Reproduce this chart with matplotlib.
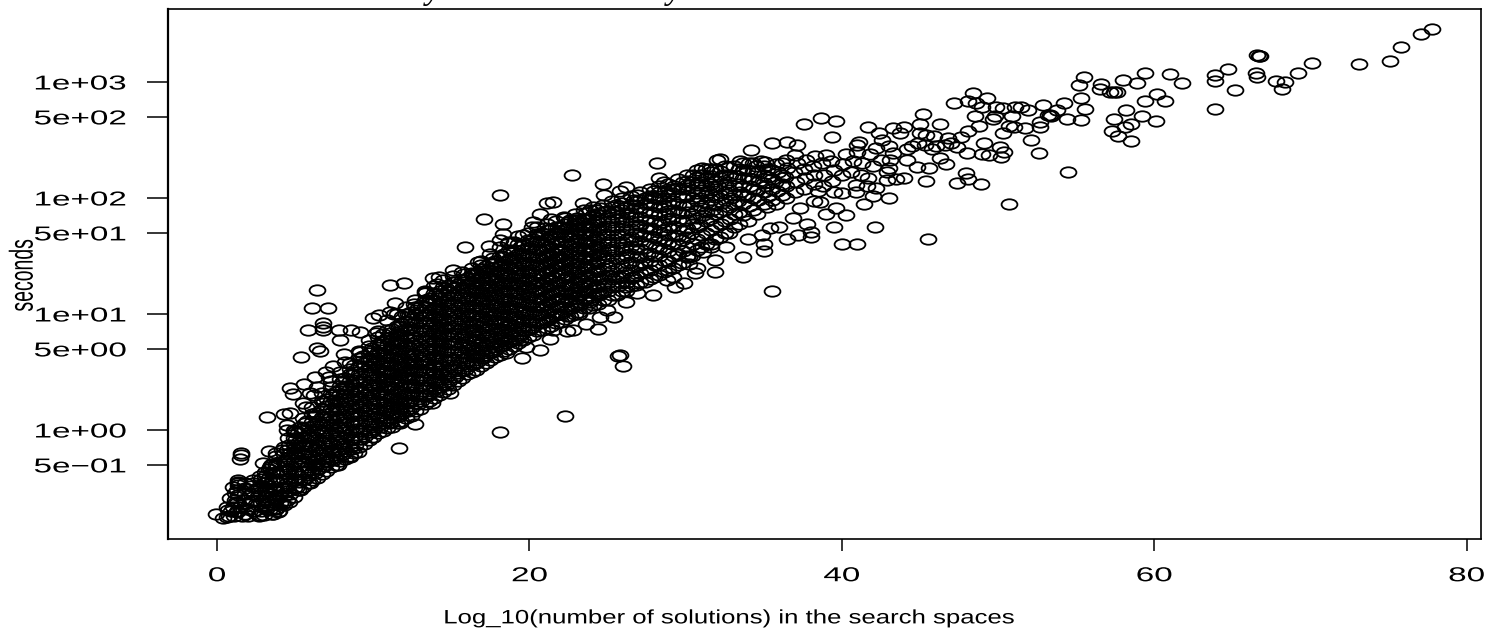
import matplotlib
matplotlib.use("Agg")
import matplotlib.pyplot as plt
from matplotlib.path import Path
from matplotlib.patheffects import AbstractPathEffect
from matplotlib.transforms import Affine2D

# (log10 number of solutions, log10 seconds)
band_a = [(.8,-.74),(.9,-.7),(1.0,-.66),(1.1,-.74),(1.2,-.62),(1.25,-.7),(1.35,-.56),(1.5,-.66),(1.6,-.74),(1.7,-.6),(1.8,-.5),(1.9,-.68),(2.0,-.74),(2.1,-.62),(2.15,-.55),(2.2,-.48),(2.4,-.7),(2.5,-.64),(2.6,-.57),(2.65,-.5),(2.7,-.74),
(3.0,-.73),(3.05,-.66),(2.95,-.6),(3.1,-.53),(3.0,-.46),(3.1,-.4),(3.5,-.72),(3.55,-.65),(3.45,-.58),(3.6,-.51),(3.5,-.44),(3.55,-.37),(3.45,-.3),
(4.0,-.7),(4.05,-.63),(3.95,-.56),(4.1,-.49),(4.0,-.42),(4.05,-.35),(3.95,-.28),(4.6,-.62),(4.65,-.55),(4.55,-.48),(4.7,-.41),(4.6,-.34),(4.5,-.27),(4.65,-.2),(4.6,-.13),
(5.2,-.52),(5.25,-.45),(5.15,-.38),(5.3,-.31),(5.2,-.24),(5.1,-.17),(5.25,-.1),(5.2,-.03),(5.8,-.46),(5.85,-.39),(5.75,-.32),(5.9,-.25),(5.8,-.18),(5.7,-.11),(5.85,-.04),(5.8,.03),(5.75,.08),
(6.4,-.41),(6.45,-.34),(6.35,-.27),(6.5,-.2),(6.4,-.13),(6.3,-.06),(6.45,.01),(6.4,.08),(6.35,.15),(7.0,-.35),(7.05,-.28),(6.95,-.21),(7.1,-.14),(7.0,-.07),(6.9,0),(7.05,.07),(7.0,.14),(6.95,.21),(7.05,.27),
(7.6,-.3),(7.65,-.23),(7.55,-.16),(7.7,-.09),(7.6,-.02),(7.5,.05),(7.65,.12),(7.6,.19),(7.55,.26),(7.65,.33),(8.2,-.25),(8.25,-.18),(8.15,-.11),(8.3,-.04),(8.2,.03),(8.1,.1),(8.25,.17),(8.2,.24),(8.15,.31),(8.25,.38),(8.2,.45)]
band_b = [(8.8,-.2),(8.85,-.13),(8.75,-.06),(8.9,.01),(8.8,.08),(8.7,.15),(8.85,.22),(8.8,.29),(8.75,.36),(8.85,.43),(8.8,.5),(8.75,.56),
(9.4,-.12),(9.45,-.05),(9.35,.02),(9.5,.09),(9.4,.16),(9.3,.23),(9.45,.3),(9.4,.37),(9.35,.44),(9.45,.51),(9.4,.58),(9.35,.64),
(10.0,-.06),(10.05,.01),(9.95,.08),(10.1,.15),(10.0,.22),(9.9,.29),(10.05,.36),(10.0,.43),(9.95,.5),(10.05,.57),(10.0,.64),(9.95,.71),
(10.6,-.01),(10.65,.06),(10.55,.13),(10.7,.2),(10.6,.27),(10.5,.34),(10.65,.41),(10.6,.48),(10.55,.55),(10.65,.62),(10.6,.69),(10.55,.76),(10.6,.83),
(11.2,.03),(11.25,.1),(11.15,.17),(11.3,.24),(11.2,.31),(11.1,.38),(11.25,.45),(11.2,.52),(11.15,.59),(11.25,.66),(11.2,.73),(11.15,.8),(11.2,.87),
(11.8,.08),(11.85,.15),(11.75,.22),(11.9,.29),(11.8,.36),(11.7,.43),(11.85,.5),(11.8,.57),(11.75,.64),(11.85,.71),(11.8,.78),(11.75,.85),(11.8,.92),(11.85,.98),
(12.4,.12),(12.45,.19),(12.35,.26),(12.5,.33),(12.4,.4),(12.3,.47),(12.45,.54),(12.4,.61),(12.35,.68),(12.45,.75),(12.4,.82),(12.35,.89),(12.4,.96),(12.45,1.02),
(13.0,.18),(13.05,.25),(12.95,.32),(13.1,.39),(13.0,.46),(12.9,.53),(13.05,.6),(13.0,.67),(12.95,.74),(13.05,.81),(13.0,.88),(12.95,.95),(13.0,1.02),(13.05,1.08),
(13.6,.25),(13.65,.32),(13.55,.39),(13.7,.46),(13.6,.53),(13.5,.6),(13.65,.67),(13.6,.74),(13.55,.81),(13.65,.88),(13.6,.95),(13.55,1.02),(13.6,1.09),(13.65,1.14),
(14.2,.3),(14.25,.37),(14.15,.44),(14.3,.51),(14.2,.58),(14.1,.65),(14.25,.72),(14.2,.79),(14.15,.86),(14.25,.93),(14.2,1.0),(14.15,1.07),(14.2,1.14),(14.25,1.2)]
band_c = [(14.8,.35),(14.85,.42),(14.75,.49),(14.9,.56),(14.8,.63),(14.7,.7),(14.85,.77),(14.8,.84),(14.75,.91),(14.85,.98),(14.8,1.05),(14.75,1.12),(14.8,1.19),(14.85,1.25),
(15.4,.42),(15.45,.49),(15.35,.56),(15.5,.63),(15.4,.7),(15.3,.77),(15.45,.84),(15.4,.91),(15.35,.98),(15.45,1.05),(15.4,1.12),(15.35,1.19),(15.4,1.26),
(16.0,.48),(16.05,.55),(15.95,.62),(16.1,.69),(16.0,.76),(15.9,.83),(16.05,.9),(16.0,.97),(15.95,1.04),(16.05,1.11),(16.0,1.18),(15.95,1.25),(16.0,1.31),
(16.6,.52),(16.65,.59),(16.55,.66),(16.7,.73),(16.6,.8),(16.5,.87),(16.65,.94),(16.6,1.01),(16.55,1.08),(16.65,1.15),(16.6,1.22),(16.55,1.29),(16.6,1.35),
(17.2,.58),(17.25,.65),(17.15,.72),(17.3,.79),(17.2,.86),(17.1,.93),(17.25,1.0),(17.2,1.07),(17.15,1.14),(17.25,1.21),(17.2,1.28),(17.15,1.35),(17.2,1.41),
(17.8,.63),(17.85,.7),(17.75,.77),(17.9,.84),(17.8,.91),(17.7,.98),(17.85,1.05),(17.8,1.12),(17.75,1.19),(17.85,1.26),(17.8,1.33),(17.75,1.4),(17.8,1.46),
(18.4,.68),(18.45,.75),(18.35,.82),(18.5,.89),(18.4,.96),(18.3,1.03),(18.45,1.1),(18.4,1.17),(18.35,1.24),(18.45,1.31),(18.4,1.38),(18.35,1.45),(18.4,1.52),
(19.0,.72),(19.05,.79),(18.95,.86),(19.1,.93),(19.0,1.0),(18.9,1.07),(19.05,1.14),(19.0,1.21),(18.95,1.28),(19.05,1.35),(19.0,1.42),(18.95,1.49),(19.0,1.55),
(19.6,.78),(19.65,.85),(19.55,.92),(19.7,.99),(19.6,1.06),(19.5,1.13),(19.65,1.2),(19.6,1.27),(19.55,1.34),(19.65,1.41),(19.6,1.48),(19.55,1.55),(19.6,1.6)]
band_d = [(20.2,.82),(20.25,.89),(20.15,.96),(20.3,1.03),(20.2,1.1),(20.1,1.17),(20.25,1.24),(20.2,1.31),(20.15,1.38),(20.25,1.45),(20.2,1.52),(20.15,1.59),(20.2,1.65),
(20.8,.86),(20.85,.93),(20.75,1.0),(20.9,1.07),(20.8,1.14),(20.7,1.21),(20.85,1.28),(20.8,1.35),(20.75,1.42),(20.85,1.49),(20.8,1.56),(20.75,1.63),(20.8,1.7),
(21.4,.9),(21.45,.97),(21.35,1.04),(21.5,1.11),(21.4,1.18),(21.3,1.25),(21.45,1.32),(21.4,1.39),(21.35,1.46),(21.45,1.53),(21.4,1.6),(21.35,1.67),(21.4,1.73),
(22.0,.93),(22.05,1.0),(21.95,1.07),(22.1,1.14),(22.0,1.21),(21.9,1.28),(22.05,1.35),(22.0,1.42),(21.95,1.49),(22.05,1.56),(22.0,1.63),(21.95,1.7),(22.0,1.75),
(22.6,.98),(22.65,1.05),(22.55,1.12),(22.7,1.19),(22.6,1.26),(22.5,1.33),(22.65,1.4),(22.6,1.47),(22.55,1.54),(22.65,1.61),(22.6,1.68),(22.55,1.75),(22.6,1.81),
(23.2,1.02),(23.25,1.09),(23.15,1.16),(23.3,1.23),(23.2,1.3),(23.1,1.37),(23.25,1.44),(23.2,1.51),(23.15,1.58),(23.25,1.65),(23.2,1.72),(23.15,1.79),
(23.8,1.05),(23.85,1.12),(23.75,1.19),(23.9,1.26),(23.8,1.33),(23.7,1.4),(23.85,1.47),(23.8,1.54),(23.75,1.61),(23.85,1.68),(23.8,1.75),(23.75,1.82),
(24.4,1.09),(24.45,1.16),(24.35,1.23),(24.5,1.3),(24.4,1.37),(24.3,1.44),(24.45,1.51),(24.4,1.58),(24.35,1.65),(24.45,1.72),(24.4,1.79),(24.35,1.86),
(25.0,1.12),(25.05,1.2),(24.95,1.27),(25.1,1.34),(25.0,1.41),(24.9,1.48),(25.05,1.55),(25.0,1.62),(24.95,1.69),(25.05,1.76),(25.0,1.83),(24.95,1.89),
(25.6,1.16),(25.65,1.24),(25.55,1.32),(25.7,1.4),(25.6,1.47),(25.5,1.54),(25.65,1.61),(25.6,1.68),(25.55,1.75),(25.65,1.82),(25.6,1.88),(25.55,1.94),
(26.2,1.2),(26.25,1.28),(26.15,1.36),(26.3,1.44),(26.2,1.51),(26.1,1.58),(26.25,1.65),(26.2,1.72),(26.15,1.79),(26.25,1.86),(26.2,1.92),
(26.8,1.25),(26.85,1.33),(26.75,1.41),(26.9,1.49),(26.8,1.56),(26.7,1.63),(26.85,1.7),(26.8,1.77),(26.75,1.84),(26.85,1.91),(26.8,1.97),
(27.4,1.28),(27.45,1.36),(27.35,1.44),(27.5,1.52),(27.4,1.6),(27.3,1.67),(27.45,1.74),(27.4,1.81),(27.35,1.88),(27.45,1.95),(27.4,2.0),
(28.0,1.32),(28.05,1.42),(27.95,1.5),(28.1,1.58),(28.0,1.66),(27.9,1.73),(28.05,1.8),(28.0,1.87),(27.95,1.94),(28.05,2.0),(28.0,2.06),
(28.6,1.36),(28.65,1.46),(28.55,1.56),(28.7,1.64),(28.6,1.72),(28.5,1.79),(28.65,1.86),(28.6,1.93),(28.55,2.0),(28.65,2.06),
(29.2,1.4),(29.25,1.5),(29.15,1.6),(29.3,1.68),(29.2,1.76),(29.1,1.83),(29.25,1.9),(29.2,1.97),(29.15,2.04),(29.25,2.1),
(29.8,1.44),(29.85,1.54),(29.75,1.64),(29.9,1.72),(29.8,1.8),(29.7,1.87),(29.85,1.94),(29.8,2.01),(29.75,2.08),(29.85,2.14)]
band_e = [(30.4,1.5),(30.45,1.6),(30.35,1.7),(30.5,1.78),(30.4,1.86),(30.3,1.93),(30.45,2.0),(30.4,2.07),(30.35,2.14),(30.45,2.2),
(31.0,1.58),(31.05,1.68),(30.95,1.77),(31.1,1.85),(31.0,1.93),(30.9,2.0),(31.05,2.07),(31.0,2.14),(30.95,2.2),(31.05,2.26),
(31.6,1.6),(31.65,1.72),(31.55,1.82),(31.7,1.9),(31.6,1.98),(31.5,2.05),(31.65,2.12),(31.6,2.19),(31.55,2.25),
(32.2,1.66),(32.25,1.78),(32.15,1.88),(32.3,1.96),(32.2,2.03),(32.1,2.1),(32.25,2.17),(32.2,2.23),
(32.8,1.7),(32.85,1.82),(32.75,1.92),(32.9,2.0),(32.8,2.07),(32.7,2.14),(32.85,2.2),(32.8,2.27),
(33.4,1.78),(33.45,1.88),(33.35,1.97),(33.5,2.05),(33.4,2.12),(33.3,2.19),(33.45,2.25),
(34.0,1.8),(34.05,1.93),(33.95,2.02),(34.1,2.1),(34.0,2.17),(33.9,2.24),(34.05,2.3),
(34.6,1.86),(34.65,1.98),(34.55,2.07),(34.7,2.15),(34.6,2.22),(34.5,2.28),
(35.2,1.92),(35.25,2.02),(35.15,2.1),(35.3,2.18),(35.2,2.25),(35.1,2.31),
(35.8,1.95),(35.85,2.06),(35.75,2.14),(35.9,2.22),(35.8,2.29),(36.4,2.0),(36.45,2.1),(36.35,2.18),(36.5,2.26),(36.4,2.33),
(37.0,2.05),(37.05,2.14),(36.95,2.22),(37.1,2.3),(37.0,2.37),(37.6,2.08),(37.65,2.17),(37.55,2.25),(37.7,2.33),
(38.2,2.12),(38.25,2.2),(38.15,2.28),(38.3,2.36),(38.8,2.1),(38.85,2.2),(38.75,2.3),(39.0,2.37),(39.4,2.15),(39.5,2.24),(39.3,2.32),
(40.0,2.2),(40.1,2.29),(40.3,2.38),(40.6,2.22),(40.7,2.32),(41.2,2.2),(41.3,2.3),(41.0,2.4),(41.8,2.38),(42.0,2.28),(42.5,2.33)]

tail_mid = [(48.4,2.908),(49.3,2.859),(47.2,2.822),(48.1,2.836),(48.6,2.822),(49.0,2.781),(49.9,2.787),(50.3,2.773),(51.1,2.787),(51.5,2.787),(51.9,2.758),(52.9,2.8),(53.2,2.715),
(48.5,2.707),(49.8,2.707),(49.7,2.678),(50.9,2.707),(48.8,2.623),(50.7,2.62),(51.0,2.615),(51.7,2.606),(52.7,2.615),(52.7,2.658),(48.1,2.58),(50.3,2.557),(52.1,2.5),(52.6,2.39),
(45.2,2.721),(46.3,2.635),(45.0,2.635),(41.7,2.615),(43.3,2.6),(44.0,2.609),(42.4,2.557),(43.7,2.557),(45.0,2.563),(45.4,2.543),(42.6,2.5),(45.9,2.534),(46.8,2.514),(47.6,2.528),(41.1,2.485),(40.95,2.457),
(39.4,2.528),(37.6,2.635),(38.7,2.686),(39.6,2.666),(35.5,2.477),(36.5,2.485),(34.2,2.414),(32.2,2.333),(33.5,2.319),(34.8,2.32),(37.1,2.457),(49.1,2.471),(50.1,2.442),(50.4,2.399),(50.2,2.35),
(48.0,2.385),(49.0,2.379),(49.4,2.37),(47.4,2.442),(46.3,2.342),(46.7,2.29),(45.6,2.256),(44.8,2.27),(44.15,2.327),(43.0,2.256),(43.1,2.327),(43.3,2.385),(45.4,2.149),(44.0,2.169),(43.5,2.161),(42.9,2.155),
(42.2,2.083),(42.0,2.017),(43.0,2.003),(41.4,1.948),(47.95,2.218),(48.05,2.161),(47.4,2.126),(48.9,2.118),(50.7,1.948),(45.5,1.643),(42.1,1.753),(39.5,1.747),(41.0,1.603),(40.3,1.853),(39.6,1.911),(39.0,1.862),
(40.0,2.046),(40.9,2.112),(41.7,2.169),(38.6,1.968),(38.2,1.974),(37.3,1.911),(37.8,1.776),(38.0,1.71),(38.0,1.66),(37.2,1.68),(36.5,1.646),(35.0,1.603),(35.0,1.546),(34.9,1.68),(34.0,1.643),(36.9,1.824),(36.0,1.753),(35.4,1.738),(32.6,1.58),(33.7,1.494),
(44.5,2.45),(45.8,2.42),(46.6,2.46),(44.2,2.42),(43.0,2.45),(42.2,2.43),(44.9,2.47),(47.0,2.47),(46.0,2.45),(45.3,2.46),(40.9,2.05),(39.5,2.05),(41.6,2.1),(38.5,2.06),(42.9,2.22)]
tail_top = [(77.8,3.457),(77.1,3.417),(75.8,3.3),(75.1,3.18),(73.1,3.155),(70.1,3.164),(69.2,3.08),(68.4,3.0),(68.2,2.94),(67.8,3.01),(66.6,3.23),(66.8,3.22),(66.7,3.225),(66.5,3.08),(66.6,3.04),(65.2,2.93),(64.7,3.11),(63.9,3.06),(63.9,3.01),(63.9,2.77),
(61.8,2.99),(61.0,3.07),(59.4,3.08),(58.9,2.99),(60.2,2.9),(60.7,2.84),(59.4,2.84),(60.1,2.66),(59.2,2.71),(58.2,2.76),(58.5,2.635),(58.1,2.61),(57.4,2.68),(57.3,2.58),(57.7,2.535),(58.5,2.49),(58.0,3.02),(57.4,2.91),(57.2,2.91),(57.6,2.915),(56.5,2.94),(56.6,2.98),
(55.5,3.04),(55.2,2.97),(55.3,2.86),(55.6,2.765),(55.3,2.67),(54.4,2.68),(54.2,2.82),(53.8,2.76),(53.4,2.71),(53.3,2.715),(54.5,2.22)]
out_mid = [(28.2,2.304),(22.7,2.198),(18.1,2.025),(21.1,1.959),(21.5,1.968),(23.4,1.959),(24.7,2.117),(17.1,1.821),(18.3,1.775),(20.7,1.859),(15.9,1.577),(17.4,1.589),(15.1,1.382),(16.7,1.451),(18.3,1.689),
(25.8,.646),(24.4,.867),(20.7,.689),(19.8,.712),(19.5,.617),(21.3,.784),(22.4,.856),(22.8,.862),(23.6,.913),(25.4,.977),(24.5,.977),(24.95,1.034),(26.2,1.106),(27.9,1.163),(26.9,1.178),(29.3,1.235),(29.9,1.264),(30.6,1.356),(31.9,1.365),(30.2,1.431),(31.9,1.465),(30.2,1.494),(31.1,1.537),
(26.2,2.097),(25.8,2.063),(26.9,2.025),(24.8,2.025),(28.3,2.169),(28.6,2.14),(30.1,2.11),(31.1,2.198),(32.0,2.327),(22.3,.12),(18.1,-.02),(26.0,.55),(25.7,.64),(35.5,1.2),(40.0,1.6)]
out_low = [(6.4,1.207),(6.1,1.052),(7.1,1.052),(6.8,.919),(6.8,.891),(5.8,.862),(6.8,.862),(7.8,.862),(8.6,.862),(9.15,.848),(7.9,.776),(6.4,.704),(6.6,.684),(5.4,.626),(11.1,1.25),(12.0,1.27),(11.4,1.098),(11.1,1.02),(10.0,.963),(10.4,.99),
(8.1,.655),(7.45,.552),(6.3,.454),(4.7,.359),(4.85,.31),(5.6,.396),(6.2,.302),(3.2,.115),(4.3,.138),(4.7,.144),(4.45,.043),(4.45,0),(4.55,-.072),(3.35,-.178),(4.15,-.172),(1.55,-.196),(1.55,-.216),(1.45,-.253),(2.95,-.287),(3.5,-.293),(3.07,-.359),
(1.35,-.43),(1.35,-.445),(1.35,-.46),(1.35,-.474),(1.15,-.546),(1.15,-.604),(.72,-.69),(-.05,-.727),(.4,-.761),(.62,-.753),(2.75,-.733),(3.6,-.72),(3.93,-.704),(4.14,-.638),(5.3,-.517),(5.95,-.46),(7.77,-.302),(9.05,-.187),(8.5,-.23),(13.74,.23),(12.67,.052),(11.67,-.152),(11.7,.057),(14.9,.316),(10,-.06),(11.07,.06)]
edge_pts = [(13.3,1.2),(13.85,1.307),(14.2,1.32),(15.8,1.344),(16.3,1.35),(16.9,1.42),(17.7,1.48),(18.1,1.64),(18.65,1.61),(19,1.62),(19.6,1.68),(20.15,1.75),(20.25,1.796),(21,1.74),(21.4,1.82),(22.2,1.84),(23,1.81),(23.9,1.896),(24.5,1.91),(25.8,1.93),(26.7,1.98),(27.9,2.01),(29.2,2.08),(30.7,2.126),(31.6,2.226),
(26.2,1.235),(26.66,1.32),(29.2,1.32),(28.8,1.29),(25.8,1.32),(24.5,1.18),(23.9,1.1),(23.2,1.0),(22.4,.98),(21.5,.86),(19.4,.78),(18.5,.66),(30.1,1.49),(30.7,1.4),(31.6,1.58),
(7.2,.46),(7,.5),(8.2,.59),(9.15,.675),(10.2,.833),(11.3,1.0),(12.6,1.09),(13.4,1.19),(14.1,1.26),(5.5,.23),(5.95,.32),(6.4,.37),(5.7,.2),(4.9,0),(5.3,.03),(3.8,-.2),(3.4,-.32),(2.75,-.4),(2.3,-.46),(1.05,-.49),(.83,-.59),(.62,-.66)]

# columns of the solid black core: one x, several log10 seconds
core_x = [1.3,1.8,2.3,2.8,3.3,3.8,4.3,4.9,5.5,6.1,6.7,7.3,7.9,8.5,9.1,9.7,10.3,10.9,11.5,12.1,12.7,13.3,13.9,14.5,15.1,15.7,16.3,16.9,17.5,18.1,18.7,19.3,19.9,20.5,21.1,21.7,22.3,22.9,23.5,24.1,24.7,25.3,25.9,26.5,27.1,27.7,28.3,28.9,29.5,30.1,30.7,31.3,31.9,32.5,33.1,33.7,34.3,35.0,35.5,36.2]
core_y = [[-.71,-.63,-.52],[-.72,-.63,-.55,-.46],[-.7,-.6,-.53,-.43],[-.7,-.63,-.56,-.49,-.42],[-.69,-.62,-.55,-.48,-.41,-.34],[-.68,-.6,-.53,-.45,-.37,-.3,-.22],[-.65,-.57,-.5,-.42,-.35,-.27,-.21,-.15],[-.58,-.5,-.43,-.35,-.28,-.2,-.13,-.07,-.02],[-.49,-.42,-.35,-.27,-.2,-.13,-.06,.02,.1],[-.43,-.36,-.29,-.22,-.14,-.07,0,.07,.14,.2],[-.38,-.31,-.24,-.17,-.1,-.03,.04,.11,.18,.25,.32],[-.32,-.25,-.18,-.11,-.03,.04,.11,.18,.25,.31,.37,.42],[-.27,-.2,-.12,-.05,.03,.1,.17,.24,.31,.38,.44,.5],[-.22,-.15,-.08,0,.07,.14,.21,.28,.35,.42,.48,.53,.58],[-.15,-.08,-.01,.06,.13,.2,.27,.34,.41,.48,.55,.62,.68],[-.09,-.02,.05,.12,.19,.26,.33,.4,.47,.54,.6,.66,.72,.78],[-.03,.04,.11,.18,.25,.32,.39,.46,.53,.6,.67,.74,.8,.85],[.02,.09,.16,.23,.3,.37,.44,.51,.58,.65,.72,.79,.86,.95],[.06,.13,.2,.27,.34,.41,.48,.55,.62,.69,.76,.83,.9,1.0],[.1,.17,.24,.31,.38,.45,.52,.59,.66,.73,.8,.87,.94,1.0,1.06],[.16,.23,.3,.37,.44,.51,.58,.65,.72,.79,.86,.93,1.0,1.06,1.12],[.22,.29,.36,.43,.5,.57,.64,.71,.78,.85,.92,.99,1.06,1.12,1.18],[.28,.35,.42,.49,.56,.63,.7,.77,.84,.91,.98,1.05,1.12,1.18,1.24],[.33,.4,.47,.54,.61,.68,.75,.82,.89,.96,1.03,1.1,1.17,1.23,1.29],[.39,.46,.53,.6,.67,.74,.81,.88,.95,1.02,1.09,1.16,1.22,1.28,1.33],[.45,.52,.59,.66,.73,.8,.87,.94,1.01,1.08,1.15,1.22,1.29,1.36],[.5,.57,.64,.71,.78,.85,.92,.99,1.06,1.13,1.2,1.27,1.34,1.4],[.55,.62,.69,.76,.83,.9,.97,1.04,1.11,1.18,1.25,1.32,1.39,1.46],[.6,.67,.74,.81,.88,.95,1.02,1.09,1.16,1.23,1.3,1.37,1.44,1.52],[.65,.72,.79,.86,.93,1.0,1.07,1.14,1.21,1.28,1.35,1.42,1.5,1.58],[.7,.77,.84,.91,.98,1.05,1.12,1.19,1.26,1.33,1.4,1.47,1.55,1.62],[.75,.82,.89,.96,1.03,1.1,1.17,1.24,1.31,1.38,1.45,1.52,1.6,1.67],[.8,.87,.94,1.01,1.08,1.15,1.22,1.29,1.36,1.43,1.5,1.57,1.64,1.7],[.85,.92,.99,1.06,1.13,1.2,1.27,1.34,1.41,1.48,1.55,1.62,1.69,1.75],[.88,.95,1.02,1.09,1.16,1.23,1.3,1.37,1.44,1.51,1.58,1.65,1.72,1.78],[.92,.99,1.06,1.13,1.2,1.27,1.34,1.41,1.48,1.55,1.62,1.69,1.75,1.8],[.96,1.03,1.1,1.17,1.24,1.31,1.38,1.45,1.52,1.59,1.66,1.73,1.78,1.83],[1.0,1.07,1.14,1.21,1.28,1.35,1.42,1.49,1.56,1.63,1.7,1.76,1.81,1.86],[1.05,1.12,1.19,1.26,1.33,1.4,1.47,1.54,1.61,1.68,1.75,1.82,1.9],[1.08,1.15,1.22,1.29,1.36,1.43,1.5,1.57,1.64,1.71,1.78,1.85,1.92],[1.12,1.19,1.26,1.33,1.4,1.47,1.54,1.61,1.68,1.75,1.82,1.88,1.94],[1.16,1.23,1.3,1.37,1.44,1.51,1.58,1.65,1.72,1.79,1.86,1.92,1.97],[1.2,1.27,1.34,1.41,1.48,1.55,1.62,1.69,1.76,1.83,1.9,1.96,2.0],[1.24,1.31,1.38,1.45,1.52,1.59,1.66,1.73,1.8,1.87,1.94,2.02],[1.28,1.35,1.42,1.49,1.56,1.63,1.7,1.77,1.84,1.91,1.98,2.05],[1.3,1.38,1.46,1.53,1.6,1.67,1.74,1.81,1.88,1.95,2.02,2.08],[1.34,1.42,1.5,1.57,1.64,1.71,1.78,1.85,1.92,1.99,2.05,2.1],[1.38,1.46,1.54,1.61,1.68,1.75,1.82,1.89,1.96,2.03,2.08,2.12],[1.42,1.52,1.6,1.67,1.74,1.81,1.88,1.95,2.02,2.09,2.16],[1.5,1.58,1.66,1.74,1.81,1.88,1.95,2.02,2.09,2.15,2.2],[1.55,1.65,1.75,1.83,1.9,1.97,2.04,2.11,2.18,2.24],[1.6,1.7,1.8,1.88,1.96,2.03,2.1,2.17,2.25],[1.65,1.76,1.86,1.94,2.01,2.08,2.15,2.25],[1.7,1.8,1.9,1.98,2.05,2.12,2.2,2.28],[1.75,1.86,1.95,2.03,2.1,2.17,2.28],[1.85,1.95,2.03,2.1,2.17,2.24,2.3],[1.9,2.0,2.08,2.16,2.23,2.3],[1.95,2.05,2.13,2.2,2.28],[1.98,2.08,2.16,2.24],[2.03,2.12,2.2,2.3]]

# second pass over the core, between the rows above
dense_x = [3.15,3.75,4.45,5.05,5.65,6.25,6.85,7.45,8.05,8.65,9.25,9.85,10.45,11.05,11.65,12.25,12.85,13.45,14.05,14.65,15.25,15.85,16.45,17.05,17.65,18.25,18.85,19.45,20.05,20.65,21.25,21.85,22.45,23.05,23.65,24.25]
dense_y = [[-.68,-.6,-.52,-.45],[-.67,-.59,-.52,-.44,-.36,-.29],[-.6,-.53,-.46,-.38,-.31,-.24,-.17],[-.5,-.43,-.36,-.29,-.22,-.15,-.08,-.01],[-.42,-.35,-.28,-.21,-.14,-.07,0,.06],[-.37,-.3,-.23,-.16,-.09,-.02,.05,.12],[-.31,-.24,-.17,-.1,-.03,.04,.11,.18,.25],[-.26,-.19,-.12,-.05,.02,.09,.16,.23,.3],[-.21,-.14,-.07,0,.07,.14,.21,.28,.35,.42],[-.16,-.09,-.02,.05,.12,.19,.26,.33,.4,.47],[-.08,-.01,.06,.13,.2,.27,.34,.41,.48,.55,.62],[-.02,.05,.12,.19,.26,.33,.4,.47,.54,.61,.68],[.03,.1,.17,.24,.31,.38,.45,.52,.59,.66,.73],[.07,.14,.21,.28,.35,.42,.49,.56,.63,.7,.77,.84],[.12,.19,.26,.33,.4,.47,.54,.61,.68,.75,.82,.89],[.16,.23,.3,.37,.44,.51,.58,.65,.72,.79,.86,.93,1.0],[.22,.29,.36,.43,.5,.57,.64,.71,.78,.85,.92,.99,1.05],[.29,.36,.43,.5,.57,.64,.71,.78,.85,.92,.99,1.06,1.12],[.34,.41,.48,.55,.62,.69,.76,.83,.9,.97,1.04,1.11,1.17],[.39,.46,.53,.6,.67,.74,.81,.88,.95,1.02,1.09,1.16,1.22],[.46,.53,.6,.67,.74,.81,.88,.95,1.02,1.09,1.16,1.23,1.28],[.52,.59,.66,.73,.8,.87,.94,1.01,1.08,1.15,1.22,1.29],[.57,.64,.71,.78,.85,.92,.99,1.06,1.13,1.2,1.27,1.34],[.62,.69,.76,.83,.9,.97,1.04,1.11,1.18,1.25,1.32,1.39],[.67,.74,.81,.88,.95,1.02,1.09,1.16,1.23,1.3,1.37,1.44],[.72,.79,.86,.93,1.0,1.07,1.14,1.21,1.28,1.35,1.42,1.49],[.77,.84,.91,.98,1.05,1.12,1.19,1.26,1.33,1.4,1.47,1.54],[.82,.89,.96,1.03,1.1,1.17,1.24,1.31,1.38,1.45,1.52,1.59],[.87,.94,1.01,1.08,1.15,1.22,1.29,1.36,1.43,1.5,1.57,1.63],[.92,.99,1.06,1.13,1.2,1.27,1.34,1.41,1.48,1.55,1.62,1.68],[.96,1.03,1.1,1.17,1.24,1.31,1.38,1.45,1.52,1.59,1.66,1.72],[1.0,1.07,1.14,1.21,1.28,1.35,1.42,1.49,1.56,1.63,1.7,1.75],[1.04,1.11,1.18,1.25,1.32,1.39,1.46,1.53,1.6,1.67,1.74,1.79],[1.09,1.16,1.23,1.3,1.37,1.44,1.51,1.58,1.65,1.72,1.78,1.83],[1.13,1.2,1.27,1.34,1.41,1.48,1.55,1.62,1.69,1.76,1.82,1.87],[1.17,1.24,1.31,1.38,1.45,1.52,1.59,1.66,1.73,1.8,1.86,1.9]]

x_ticks = [0, 20, 40, 60, 80]
y_ticks = [0.5, 1, 5, 10, 50, 100, 500, 1000]
y_tick_labels = ["5e\u221201", "1e+00", "5e+00", "1e+01", "5e+01", "1e+02", "5e+02", "1e+03"]
x_label = "Log_10(number of solutions) in the search spaces"
y_label = "seconds"

W, H = 1485, 630
FONT = "Liberation Sans"


class Stretch(AbstractPathEffect):
    """Widen a text's glyphs about a display x position (the source picture is stretched)."""
    def __init__(self, k, x0):
        super().__init__()
        self.k, self.x0 = k, x0

    def draw_path(self, renderer, gc, tpath, affine, rgbFace=None):
        t = affine + Affine2D().translate(-self.x0, 0).scale(self.k, 1).translate(self.x0, 0)
        renderer.draw_path(gc, tpath, t, rgbFace)


fig = plt.figure(figsize=(W / 100, H / 100), dpi=100)
L, R, T, B = 168, 1481, 9, 539
ax = fig.add_axes([L / W, 1 - B / H, (R - L) / W, (B - T) / H])

pts = band_a + band_b + band_c + band_d + band_e + tail_mid + tail_top + out_mid + out_low + edge_pts
for cx, cols in list(zip(core_x, core_y)) + list(zip(dense_x, dense_y)):
    pts = pts + [(cx, c) for c in cols]
xs = [p[0] for p in pts]
ys = [10 ** p[1] for p in pts]
ellipse = Path.unit_circle().transformed(Affine2D().scale(1, 0.66))
ax.plot(xs, ys, ls="none", marker=ellipse, ms=11.4, mfc="none", mec="black", mew=1.3, clip_on=False)

ax.set_yscale("log")
ax.set_xlim((L - 217) / 15.62, (R - 217) / 15.62)
ax.set_ylim(10 ** ((430 - B) / 116), 10 ** ((430 - T) / 116))
for s in ax.spines.values():
    s.set_linewidth(1.2)
ax.spines["left"].set_linewidth(1.6)
ax.minorticks_off()
ax.tick_params(axis="x", length=8.6, width=1.1, pad=11)
ax.tick_params(axis="y", length=15, width=1.1, pad=15)
ax.set_xticks(x_ticks)
ax.set_yticks(y_ticks)
ax.set_yticklabels(y_tick_labels)
ax.minorticks_off()

for v, lab in zip(x_ticks, ax.get_xticklabels()):
    lab.set_fontfamily(FONT)
    lab.set_fontsize(14.5)
    lab.set_path_effects([Stretch(1.65, 217 + 15.62 * v)])
for lab in ax.get_yticklabels():
    lab.set_fontfamily(FONT)
    lab.set_fontsize(14.5)
    lab.set_path_effects([Stretch(1.65, 126)])

fig.text(731 / W, 1 - 619 / H, x_label, family=FONT, fontsize=14, ha="center", va="center",
         path_effects=[Stretch(1.325, 731)])
fig.text(25 / W, 1 - 275 / H, y_label, family=FONT, fontsize=14, rotation=90, ha="center", va="center",
         path_effects=[Stretch(1.7, 25)])
fig.text(433 / W, 1.0 + 1 / H, "y", family="Liberation Serif", style="italic", fontsize=24, ha="center", va="baseline")
fig.text(674 / W, 1.0 + 1 / H, "y", family="Liberation Serif", style="italic", fontsize=24, ha="center", va="baseline")

fig.savefig("out.png", dpi=100)
